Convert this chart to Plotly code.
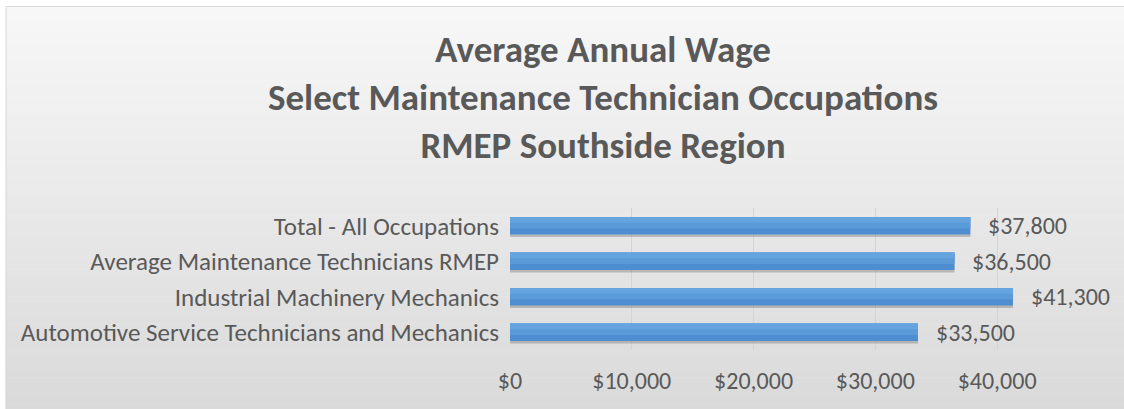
import plotly.graph_objects as go

categories = [
    "Automotive Service Technicians and Mechanics",
    "Industrial Machinery Mechanics",
    "Average Maintenance Technicians RMEP",
    "Total - All Occupations",
]
wages = [33500, 41300, 36500, 37800]
wage_labels = ["$33,500", "$41,300", "$36,500", "$37,800"]
tick_values = [0, 10000, 20000, 30000, 40000]
tick_labels = ["$0", "$10,000", "$20,000", "$30,000", "$40,000"]

W, H = 1124, 409
L, T, B = 509.5, 208, 59
X_MAX = 45000
PW = 121.8 * X_MAX / 10000
R = W - L - PW
PH = H - T - B

FONT = "Carlito, Lato, 'Liberation Sans', sans-serif"
GRAY = "#595959"

def px_x(p):
    return (p - L) / PW

def px_y(p):
    return 1 - (p - T) / PH

fig = go.Figure()

bw = 0.49
# shadow
fig.add_trace(go.Bar(
    y=categories, x=wages, orientation="h",
    width=bw, offset=-bw / 2 - 0.07,
    marker=dict(color="rgba(70,70,70,0.28)", line=dict(width=0)),
    hoverinfo="skip", showlegend=False,
))
# main bar (darker lower tone)
fig.add_trace(go.Bar(
    y=categories, x=wages, orientation="h",
    width=bw, offset=-bw / 2,
    marker=dict(color="#4e8ed0", line=dict(width=0)),
    showlegend=False,
))
# middle tone
fig.add_trace(go.Bar(
    y=categories, x=wages, orientation="h",
    width=bw * 0.66, offset=-bw / 2 + bw * 0.34,
    marker=dict(color="#5a9ad8", line=dict(width=0)),
    hoverinfo="skip", showlegend=False,
))
# top highlight
fig.add_trace(go.Bar(
    y=categories, x=wages, orientation="h",
    width=bw * 0.33, offset=bw / 2 - bw * 0.33,
    marker=dict(color="#66a4df", line=dict(width=0)),
    hoverinfo="skip", showlegend=False,
))

annotations = []
for c, v, lab in zip(categories, wages, wage_labels):
    annotations.append(dict(
        x=v, y=c, xref="x", yref="y", text=lab, showarrow=False,
        xanchor="left", yanchor="middle", xshift=16,
        font=dict(family=FONT, size=24, color=GRAY),
    ))

# background gradient strips
shapes = []
n = 60
top_c = (247, 247, 247)
bot_c = (218, 218, 218)
y0p, y1p = 6, H + 2
for i in range(n):
    a = y0p + (y1p - y0p) * i / n
    b = y0p + (y1p - y0p) * (i + 1) / n + 0.5
    f = i / (n - 1)
    col = tuple(round(top_c[k] + (bot_c[k] - top_c[k]) * f) for k in range(3))
    shapes.append(dict(
        type="rect", xref="paper", yref="paper", layer="below",
        x0=px_x(5), x1=px_x(W + 5), y0=px_y(a), y1=px_y(b),
        fillcolor="rgb(%d,%d,%d)" % col, line=dict(width=0),
    ))
shapes.append(dict(
    type="rect", xref="paper", yref="paper", layer="below",
    x0=px_x(5.5), x1=px_x(W + 5), y0=px_y(6.5), y1=px_y(H + 5),
    fillcolor="rgba(0,0,0,0)", line=dict(color="#d9d9d9", width=1),
))

fig.update_layout(
    width=W, height=H,
    margin=dict(l=L, r=R, t=T, b=B, pad=0),
    paper_bgcolor="white",
    plot_bgcolor="rgba(0,0,0,0)",
    barmode="overlay",
    title=dict(
        text="Average Annual Wage<br>Select Maintenance Technician Occupations<br>RMEP Southside Region",
        x=603 / W, xanchor="center",
        y=1 - 62 / H, yanchor="top",
        font=dict(family=FONT, size=37, color=GRAY, weight="bold"),
    ),
    xaxis=dict(
        range=[0, X_MAX],
        tickvals=tick_values, ticktext=tick_labels,
        showgrid=True, gridcolor="#d4d4d4", gridwidth=1,
        zeroline=False, showline=False,
        ticks="outside", ticklen=9, tickcolor="rgba(0,0,0,0)",
        tickfont=dict(family=FONT, size=24, color=GRAY),
        fixedrange=True,
    ),
    yaxis=dict(
        categoryorder="array", categoryarray=categories,
        showgrid=False, zeroline=False, showline=False,
        ticks="outside", ticklen=5, tickcolor="rgba(0,0,0,0)",
        tickfont=dict(family=FONT, size=25, color=GRAY),
        fixedrange=True,
    ),
    annotations=annotations,
    shapes=shapes,
    showlegend=False,
)

fig.write_html("out.html")
